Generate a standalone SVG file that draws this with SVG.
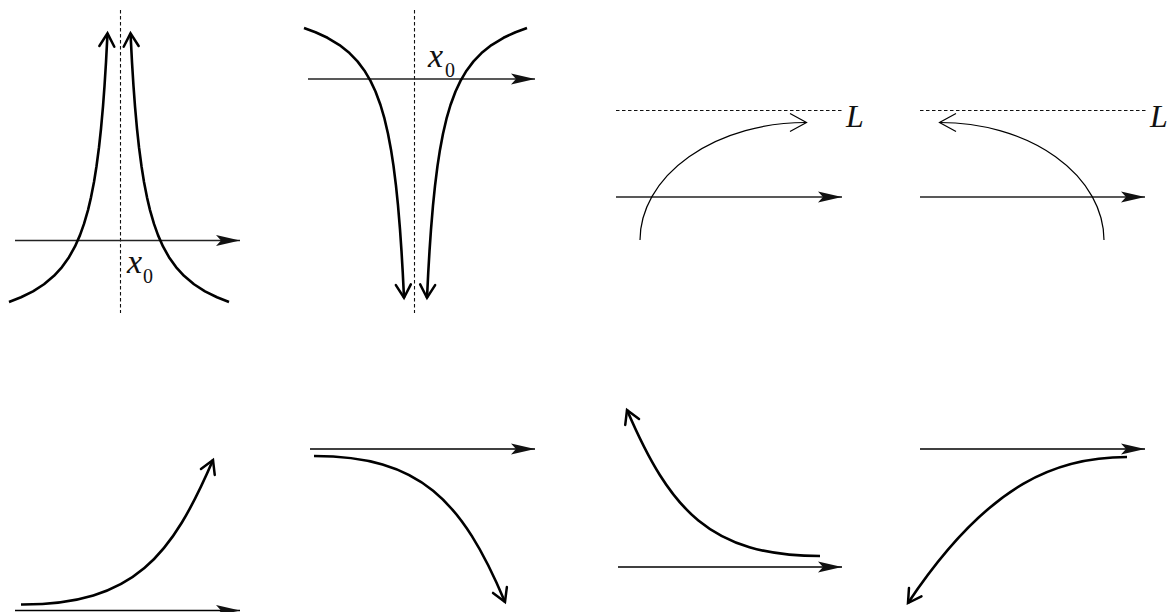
<svg xmlns="http://www.w3.org/2000/svg" width="1170" height="612" viewBox="0 0 1170 612">
<style>
.axis{fill:none;stroke:#222;stroke-width:1.6}
.axisb{fill:none;stroke:#000;stroke-width:1.3}
.dash{fill:none;stroke:#111;stroke-width:1.1;stroke-dasharray:3.5 2.5}
.thick{fill:none;stroke:#000;stroke-width:2.6;stroke-linejoin:round}
.thin{fill:none;stroke:#000;stroke-width:1.2}
.mi{font-family:"Liberation Serif","Times New Roman",serif;font-style:italic;fill:#111}
.sub{font-family:"Liberation Serif","Times New Roman",serif;fill:#111}
</style>
<defs>
<marker id="stealth" markerUnits="userSpaceOnUse" orient="auto" refX="0" refY="0" markerWidth="30" markerHeight="14" overflow="visible">
<path d="M0,0 L-24,-5.5 L-19,0 L-24,5.5 Z" fill="#111"/>
</marker>
<marker id="vthick" markerUnits="userSpaceOnUse" orient="auto" refX="0" refY="0" markerWidth="20" markerHeight="20" overflow="visible">
<path d="M-13,-7.5 L0,0 L-13,7.5" fill="none" stroke="#000" stroke-width="2.5" stroke-linecap="round" stroke-linejoin="miter"/>
</marker>
<marker id="vthin" markerUnits="userSpaceOnUse" orient="auto" refX="0" refY="0" markerWidth="24" markerHeight="24" overflow="visible">
<path d="M-16.5,-9 L0,0 L-16.5,9" fill="none" stroke="#000" stroke-width="1.2"/>
</marker>
</defs>
<rect width="1170" height="612" fill="#fff"/>

<g id="panel1">
<line class="dash" x1="120.5" y1="10" x2="120.5" y2="313"/>
<line class="axis" x1="15" y1="240.5" x2="240" y2="240.5" marker-end="url(#stealth)"/>
<polyline class="thick" marker-end="url(#vthick)" points="9,301.96 21,297.26 33,291.3 44,284.22 54,275.79 62,267.03 69,257.2 75,246.44 80,235.12 84,223.92 88,210.09 91,197.37 94,181.93 96.5,166.28 99,147.24 101,128.74 103,106.34 104.5,86.19 106,62.25 107.5,33.36"/>
<polyline class="thick" marker-end="url(#vthick)" points="229,301.96 217,297.26 205,291.3 194,284.22 184,275.79 176,267.03 169,257.2 163,246.44 158,235.12 154,223.92 150,210.09 147,197.37 144,181.93 141.5,166.28 139,147.24 137,128.74 135,106.34 133.5,86.19 132,62.25 130.5,33.36"/>
<text class="mi" x="127" y="273" font-size="34">x</text>
<text class="sub" x="143" y="283" font-size="20">0</text>
</g>

<g id="panel2">
<line class="dash" x1="414.5" y1="10" x2="414.5" y2="313"/>
<line class="axis" x1="308" y1="79" x2="535" y2="79" marker-end="url(#stealth)"/>
<polyline class="thick" marker-end="url(#vthick)" points="304,27.96 315.5,32.2 327.5,37.77 339.5,45.04 349.5,53.05 357.5,61.36 364.5,70.67 370.5,80.83 375.5,91.49 380.5,105 384.5,118.71 388,133.7 391,149.64 393.5,165.91 396,185.88 398,205.45 400,229.37 401.5,251.11 402.75,272.5 404,297.7"/>
<polyline class="thick" marker-end="url(#vthick)" points="527,27.96 515.5,32.2 503.5,37.77 491.5,45.04 481.5,53.05 473.5,61.36 466.5,70.67 460.5,80.83 455.5,91.49 450.5,105 446.5,118.71 443,133.7 440,149.64 437.5,165.91 435,185.88 433,205.45 431,229.37 429.5,251.11 428.25,272.5 427,297.7"/>
<text class="mi" x="428" y="67" font-size="34">x</text>
<text class="sub" x="445" y="77" font-size="20">0</text>
</g>

<g id="panel3">
<line class="dash" x1="616" y1="110.5" x2="843" y2="110.5"/>
<line class="axis" x1="616" y1="197" x2="842" y2="197" marker-end="url(#stealth)"/>
<path class="thin" marker-end="url(#vthin)" d="M640,240 A166,118 0 0 1 806.5,122.5"/>
<text class="mi" x="846" y="127" font-size="32">L</text>
</g>

<g id="panel4">
<line class="dash" x1="920" y1="110.5" x2="1147" y2="110.5"/>
<line class="axis" x1="920" y1="197" x2="1145" y2="197" marker-end="url(#stealth)"/>
<path class="thin" marker-end="url(#vthin)" d="M1104,240 A164,118 0 0 0 939.5,122.5"/>
<text class="mi" x="1150" y="127" font-size="32">L</text>
</g>

<g id="panel5">
<line class="axisb" x1="15" y1="610.5" x2="240" y2="610.5" marker-end="url(#stealth)"/>
<path class="thick" marker-end="url(#vthick)" d="M21,604.5 C135,605 172,555 213,460"/>
</g>

<g id="panel6">
<line class="axisb" x1="310" y1="449" x2="535" y2="449" marker-end="url(#stealth)"/>
<path class="thick" marker-end="url(#vthick)" d="M314,456 C420,456 462,500 505,602"/>
</g>

<g id="panel7">
<line class="axisb" x1="618" y1="567" x2="842" y2="567" marker-end="url(#stealth)"/>
<path class="thick" marker-end="url(#vthick)" d="M820,556 C710,556 670,510 627,410"/>
</g>

<g id="panel8">
<line class="axisb" x1="920" y1="449" x2="1145" y2="449" marker-end="url(#stealth)"/>
<path class="thick" marker-end="url(#vthick)" d="M1127,457 C1060,457 990,480 908,603"/>
</g>
</svg>
